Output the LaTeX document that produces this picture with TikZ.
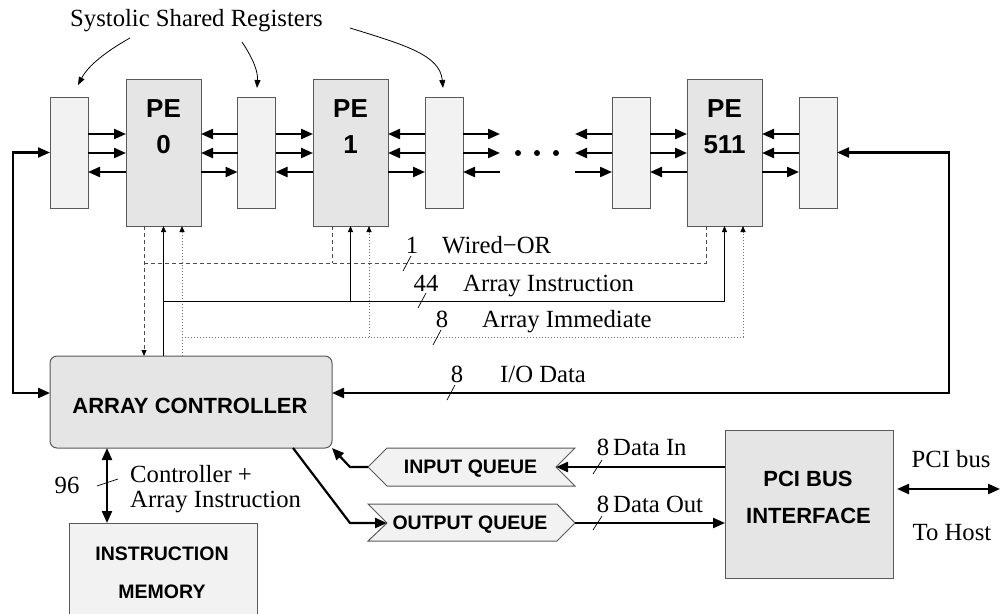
\documentclass[tikz,border=0pt]{standalone}
\usepackage{fontspec}
\setmainfont{Liberation Serif}
\setsansfont{Liberation Sans}
\usetikzlibrary{arrows.meta,calc}
\definecolor{bdr}{gray}{0.35}
\definecolor{fillA}{gray}{0.9}
\definecolor{fillB}{gray}{0.95}
\definecolor{sigdash}{gray}{0.3}
\definecolor{sigdot}{gray}{0.45}
\begin{document}
\begin{tikzpicture}[x=1pt,y=-1pt,
  box/.style={draw=bdr, line width=1pt, inner sep=0pt, outer sep=0pt},
  pebox/.style={box, fill=fillA, minimum width=75pt, minimum height=147pt},
  regbox/.style={box, fill=fillB, minimum width=38pt, minimum height=111pt},
  bus/.style={line width=2.2pt, -{Triangle[length=12pt,width=10pt]}},
  dbus/.style={line width=2.2pt, {Triangle[length=12pt,width=10pt]}-{Triangle[length=12pt,width=10pt]}},
  sig/.style={line width=0.8pt},
  stip/.style={-{Triangle[length=6pt,width=5pt,color=black]}},
  wire/.style={sig, draw=sigdash, dash pattern=on 4pt off 3pt},
  dotl/.style={sig, draw=sigdot, dash pattern=on 1pt off 2pt},
  tick/.style={line width=0.7pt},
  lbl/.style={font=\fontsize{24.7}{26}\selectfont, inner sep=0pt},
  pelbl/.style={font=\sffamily\bfseries\fontsize{26}{30}\selectfont, inner sep=0pt, anchor=base},
  blbl/.style={font=\sffamily\bfseries\fontsize{22}{26}\selectfont, inner sep=0pt, anchor=base},
  slbl/.style={font=\sffamily\bfseries\fontsize{19.5}{23}\selectfont, inner sep=0pt, anchor=base},
  cur/.style={line width=0.8pt, -{Triangle[length=8pt,width=6pt]}}
]
\useasboundingbox (0,0) rectangle (1000,613);

% ---------- PEs and registers ----------
\node[regbox] (reg0) at (69,152.5) {};
\node[pebox]  (pe0)  at (163.5,152.5) {};
\node[regbox] (reg1) at (256.5,152.5) {};
\node[pebox]  (pe1)  at (350.5,152.5) {};
\node[regbox] (reg2) at (444,152.5) {};
\node[regbox] (reg3) at (631,152.5) {};
\node[pebox]  (pe511) at (724.5,152.5) {};
\node[regbox] (reg4) at (818,152.5) {};

\node[pelbl] (pe0a) at (163.5,117) {PE};
\node[pelbl] (pe0b) at (163.5,153) {0};
\node[pelbl] (pe1a) at (350.5,117) {PE};
\node[pelbl] (pe1b) at (350.5,153) {1};
\node[pelbl] (pe511a) at (724.5,117) {PE};
\node[pelbl] (pe511b) at (724.5,153) {511};

\coordinate (ya) at (0,134);
\coordinate (yb) at (0,153);
\coordinate (yc) at (0,172);

% systolic links
\foreach \r/\p in {reg0/pe0, reg1/pe1, reg3/pe511}{
  \draw[bus] (\r.east|-ya) -- (\p.west|-ya);
  \draw[bus] (\r.east|-yb) -- (\p.west|-yb);
  \draw[bus] (\p.west|-yc) -- (\r.east|-yc);
}
\foreach \p/\r in {pe0/reg1, pe1/reg2, pe511/reg4}{
  \draw[bus] (\r.west|-ya) -- (\p.east|-ya);
  \draw[bus] (\r.west|-yb) -- (\p.east|-yb);
  \draw[bus] (\p.east|-yc) -- (\r.west|-yc);
}
\coordinate (dr) at (500,0);
\coordinate (dl) at (575,0);
\draw[bus] (reg2.east|-ya) -- (dr|-ya);
\draw[bus] (reg2.east|-yb) -- (dr|-yb);
\draw[bus] (dr|-yc) -- (reg2.east|-yc);
\draw[bus] (reg3.west|-ya) -- (dl|-ya);
\draw[bus] (reg3.west|-yb) -- (dl|-yb);
\draw[bus] (dl|-yc) -- (reg3.west|-yc);
\foreach \xx in {518,537,556}{ \fill (\xx,153) circle (3pt); }

% ---------- label with curved arrows ----------
\node[lbl, anchor=base west] (ssr) at (70,26) {Systolic Shared Registers};
\coordinate (c1) at (130,38);
\coordinate (c2) at (242,42);
\coordinate (c3) at (350,28);
\draw[cur] (c1) .. controls (105,52) and (88,66) .. (78,85);
\draw[cur] (c2) .. controls (254,60) and (258,72) .. (257,88);
\draw[cur] (c3) .. controls (405,45) and (440,55) .. (443,88);

% ---------- array controller ----------
\node[box, fill=fillA, rounded corners=7pt, minimum width=282pt, minimum height=92pt] (ac) at (191,402) {};
\node[blbl] (actxt) at (190,413) {ARRAY CONTROLLER};

% ---------- control signals ----------
\coordinate (wo0) at ($(pe0.south)+(-19.5,0)$);
\coordinate (wo1) at ($(pe1.south)+(-18.5,0)$);
\coordinate (wo511) at ($(pe511.south)+(-18.5,0)$);
\coordinate (ai0) at (pe0.south);
\coordinate (ai1) at (pe1.south);
\coordinate (ai511) at (pe511.south);
\coordinate (im0) at ($(pe0.south)+(18.5,0)$);
\coordinate (im1) at ($(pe1.south)+(18.5,0)$);
\coordinate (im511) at ($(pe511.south)+(18.5,0)$);
\coordinate (yw) at (0,263);
\coordinate (yi) at (0,301);
\coordinate (ym) at (0,337);

\draw[wire, stip] (wo0) -- (wo0|-ac.north);
\draw[wire] (wo511) |- (wo0|-yw);
\draw[wire] (wo1) -- (wo1|-yw);

\draw[dotl, stip] (im0|-ac.north) -- (im0);
\draw[dotl, stip] (im0|-ym) -| (im511);
\draw[dotl, stip] (im1|-ym) -- (im1);

\draw[sig, stip] (ai0|-ac.north) -- (ai0);
\draw[sig, stip] (ai0|-yi) -| (ai511);
\draw[sig, stip] (ai1|-yi) -- (ai1);

\node[lbl, anchor=base] (n1) at (412,253) {1};
\node[lbl, anchor=base west] (wor) at (442,253) {Wired−OR};
\draw[tick] (403,271) -- (411,256);
\node[lbl, anchor=base] (n44) at (426,291) {44};
\node[lbl, anchor=base west] (ainst) at (463,291) {Array Instruction};
\draw[tick] (418,308) -- (426,293);
\node[lbl, anchor=base] (n8a) at (442,327) {8};
\node[lbl, anchor=base west] (aimm) at (482,327) {Array Immediate};
\draw[tick] (433,345) -- (441,330);

% ---------- I/O data loop ----------
\coordinate (ior) at (949,393);
\coordinate (iol) at (13,393);
\draw[dbus] (ac.east|-ior) -- (ior) |- (reg4.east);
\draw[dbus] (reg0.west) -| (iol) -- (ac.west|-iol);
\node[lbl, anchor=base] (n8io) at (457,382) {8};
\node[lbl, anchor=base west] (iod) at (500,382) {I/O Data};
\draw[tick] (447,400) -- (455,385);

% ---------- instruction memory ----------
\node[box, fill=fillB, minimum width=188pt, minimum height=100pt] (imem) at (163,573) {};
\node[slbl] (imt1) at (162,560) {INSTRUCTION};
\node[slbl] (imt2) at (162,598) {MEMORY};
\coordinate (xm) at (107,0);
\draw[dbus] (ac.south-|xm) -- (imem.north-|xm);
\draw[tick] (97,486) -- (118,479);
\node[lbl, anchor=base] (n96) at (67,493) {96};
\node[lbl, anchor=base west] (cai1) at (130,482) {Controller +};
\node[lbl, anchor=base west] (cai2) at (130,507) {Array Instruction};

% ---------- queues ----------
\draw[box, fill=fillB] (387,448) -- (575,448) -- (556,467) -- (575,486) -- (387,486) -- (368,467) -- cycle;
\draw[box, fill=fillB] (368,504) -- (557,504) -- (575,523) -- (557,541) -- (368,541) -- (387,523) -- cycle;
\node[slbl] (iqt) at (470.5,473) {INPUT QUEUE};
\node[slbl] (oqt) at (470,529) {OUTPUT QUEUE};
\coordinate (iqL) at (368,467);
\coordinate (iqR) at (556,467);
\coordinate (oqL) at (387,523);
\coordinate (oqR) at (575,523);
\coordinate (bend1) at (350,467);
\coordinate (bend2) at (350,523);
\coordinate (acq) at (293,448);

\draw[bus] (iqL) -- (bend1) -- (ac.south east);
\draw[bus] (acq) -- (bend2) -- (oqL);

% ---------- PCI ----------
\node[box, fill=fillA, minimum width=168pt, minimum height=148pt] (pci) at (809,504) {};
\node[blbl] (pcit1) at (808,486) {PCI BUS};
\node[blbl] (pcit2) at (808.5,523) {INTERFACE};

\draw[bus] (pci.west|-iqR) -- (iqR);
\draw[bus] (oqR) -- (pci.west|-oqR);
\node[lbl, anchor=base] (n8in) at (603,455) {8};
\node[lbl, anchor=base west] (din) at (613,455) {Data In};
\draw[tick] (593,474) -- (602,460);
\node[lbl, anchor=base] (n8out) at (603,512) {8};
\node[lbl, anchor=base west] (dout) at (613,512) {Data Out};
\draw[tick] (593,530) -- (602,516);

\coordinate (host) at (1000,489);
\draw[dbus, shorten <=4pt] (pci.east|-host) -- (host);
\node[lbl, anchor=base] (pcib) at (951,467) {PCI bus};
\node[lbl, anchor=base] (toh) at (952,540) {To Host};
\end{tikzpicture}
\end{document}
